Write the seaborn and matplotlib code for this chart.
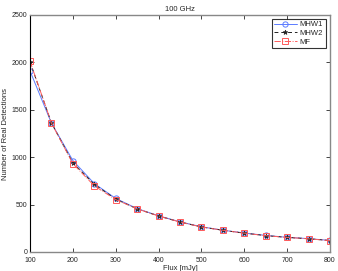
import matplotlib
matplotlib.use("Agg")
import matplotlib.pyplot as plt
import seaborn as sns
import pandas as pd

flux = [100, 150, 200, 250, 300, 350, 400, 450, 500, 550, 600, 650, 700, 750, 800]
mhw1 = [1910, 1360, 965, 722, 565, 458, 382, 318, 266, 230, 200, 175, 155, 141, 122]
mhw2 = [2005, 1362, 940, 715, 558, 455, 380, 316, 265, 229, 199, 173, 154, 140, 121]
mf = [2012, 1361, 932, 698, 553, 455, 380, 316, 264, 229, 199, 172, 154, 139, 120]
series_names = ["MHW1", "MHW2", "MF"]

df = pd.DataFrame({
    "Flux": flux * 3,
    "Count": mhw1 + mhw2 + mf,
    "Method": [n for n in series_names for _ in flux],
})

sns.set_style("white")
plt.rcParams['font.family'] = ['Liberation Sans', 'DejaVu Sans']

fig = plt.figure(figsize=(3.38, 2.71), dpi=100)
ax = fig.add_axes([30/338, 1 - 252/271, 300/338, 237/271])

styles = {
    "MHW1": dict(color="#5b7bff", ls="-", marker="o", mfc="none", ms=3.8, mew=0.7),
    "MHW2": dict(color="#222222", ls=(0, (4, 3)), marker="*", mfc="#222222", ms=3.5, mew=0.5),
    "MF": dict(color="#ff5a5a", ls="-.", marker="s", mfc="none", ms=3.8, mew=0.7),
}
for name in series_names:
    sub = df[df["Method"] == name]
    st = styles[name]
    sns.lineplot(data=sub, x="Flux", y="Count", ax=ax, color=st["color"],
                 linestyle=st["ls"], marker=st["marker"], markerfacecolor=st["mfc"],
                 markeredgecolor=st["color"], markersize=st["ms"], markeredgewidth=st["mew"],
                 linewidth=0.7, label=name)

ax.set_xlim(100, 800)
ax.set_ylim(0, 2500)
ax.set_xticks(range(100, 801, 100))
ax.set_yticks(range(0, 2501, 500))
ax.tick_params(direction="in", length=3, width=0.6, labelsize=5, pad=2,
               top=True, right=True, bottom=True, left=True)
ax.tick_params(axis="x", pad=3.5)
for side in ["top", "right", "bottom"]:
    ax.spines[side].set_color("#888888")
    ax.spines[side].set_linewidth(1.0)
ax.spines["left"].set_color("black")
ax.spines["left"].set_linewidth(0.8)
ax.set_xlabel("Flux [mJy]", fontsize=5.5, labelpad=1)
ax.set_ylabel("Number of Real Detections", fontsize=5.5, labelpad=2)
ax.set_title("100 GHz", fontsize=5.5, pad=3)

leg = ax.legend(loc="upper right", bbox_to_anchor=(0.985, 0.985), fontsize=5.5,
                frameon=True, fancybox=False,
                handlelength=3, borderpad=0.3, labelspacing=0.2, handletextpad=0.4,
                borderaxespad=0.0)
leg.get_frame().set_edgecolor("black")
leg.get_frame().set_linewidth(0.8)

fig.savefig("out.png", dpi=100)
